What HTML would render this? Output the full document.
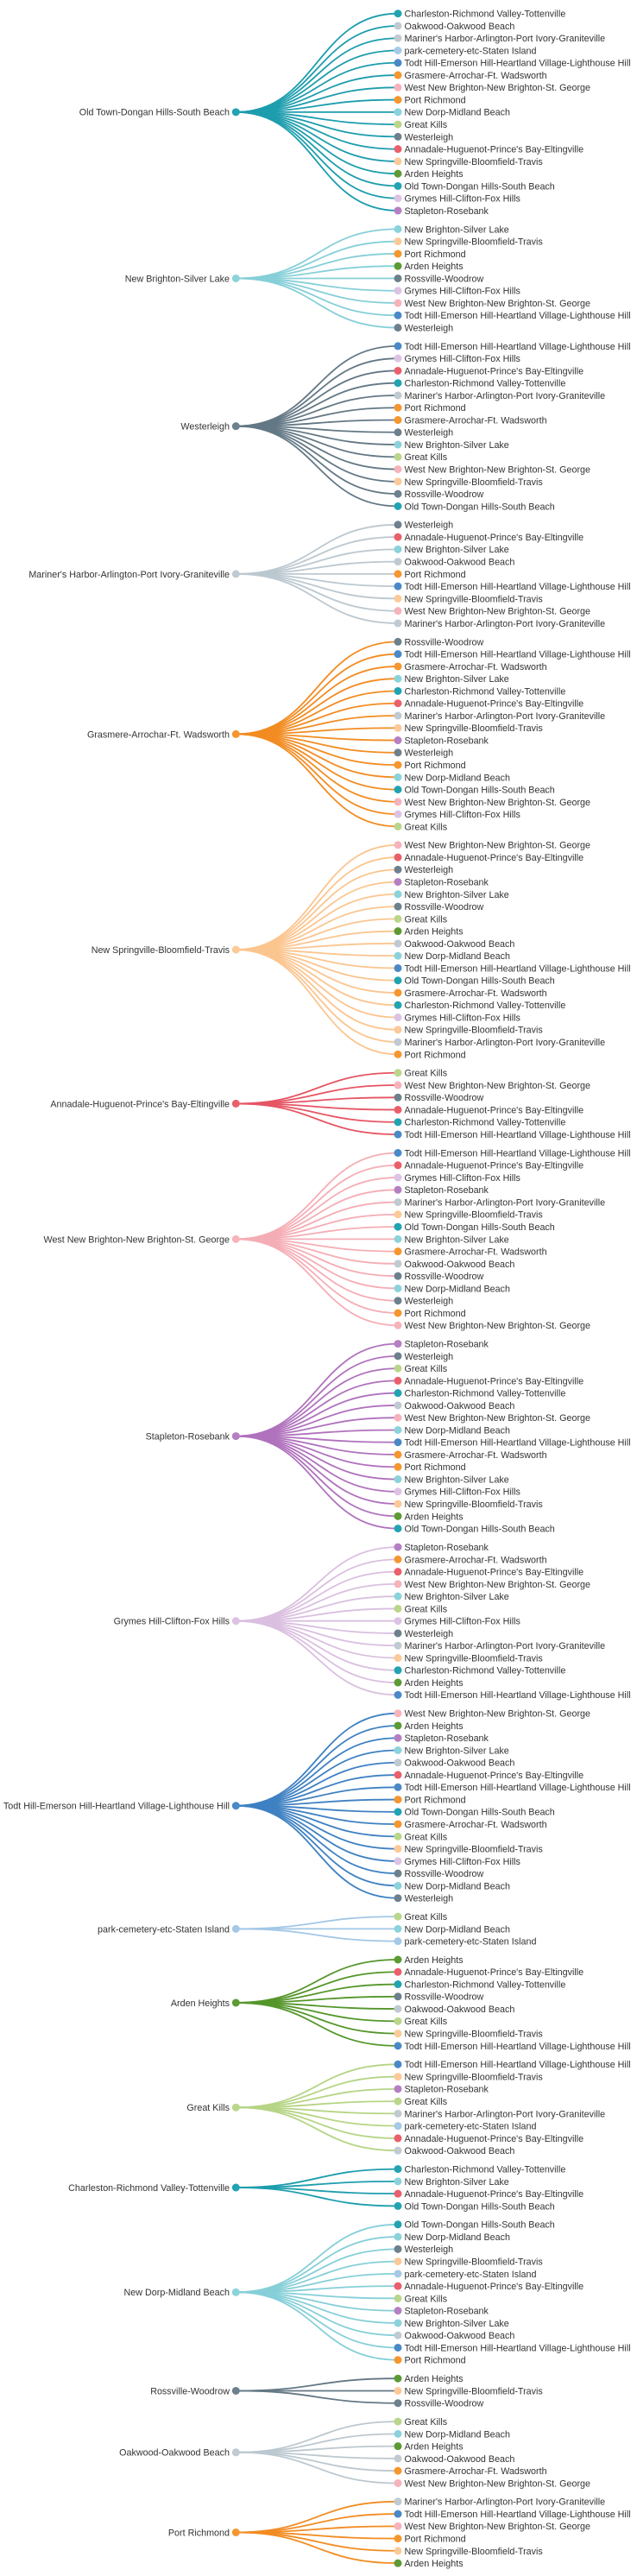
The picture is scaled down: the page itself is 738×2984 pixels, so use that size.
<!DOCTYPE html>
<html><head><meta charset="utf-8"><style>
html,body{margin:0;padding:0;background:#fff}
svg{display:block}
text{font-family:"Liberation Sans",sans-serif;font-size:10.75px;fill:#333}
.r{text-anchor:end}
.k{fill:none;stroke-width:1.8}
.ot,.ch{fill:#22a3b2}
.oa,.ma{fill:#bfcad2}
.pc{fill:#a5c9e7}
.td{fill:#4a89c8}
.gr,.pr{fill:#f5962f}
.wn{fill:#f6b3ba}
.nd,.nb{fill:#8bd3db}
.gk{fill:#bad68b}
.we,.ro{fill:#6d808d}
.an{fill:#e9606b}
.ns{fill:#fcc998}
.ar{fill:#5c9b34}
.gy{fill:#ddc3e3}
.st{fill:#b67fc3}
</style></head><body>
<svg width="738" height="2984" viewBox="0 0 738 2984" xmlns="http://www.w3.org/2000/svg">

<!-- Group 0: Old Town -->
<g transform="translate(0,15.7)">
<g class="k" stroke="#1d9dad">
<path d="M273.3 114.14C367 114.14 367 0 461 0"/>
<path d="M273.3 114.14C367 114.14 367 14.27 461 14.27"/>
<path d="M273.3 114.14C367 114.14 367 28.54 461 28.54"/>
<path d="M273.3 114.14C367 114.14 367 42.8 461 42.8"/>
<path d="M273.3 114.14C367 114.14 367 57.07 461 57.07"/>
<path d="M273.3 114.14C367 114.14 367 71.34 461 71.34"/>
<path d="M273.3 114.14C367 114.14 367 85.61 461 85.61"/>
<path d="M273.3 114.14C367 114.14 367 99.88 461 99.88"/>
<path d="M273.3 114.14C367 114.14 367 114.14 461 114.14"/>
<path d="M273.3 114.14C367 114.14 367 128.41 461 128.41"/>
<path d="M273.3 114.14C367 114.14 367 142.68 461 142.68"/>
<path d="M273.3 114.14C367 114.14 367 156.95 461 156.95"/>
<path d="M273.3 114.14C367 114.14 367 171.22 461 171.22"/>
<path d="M273.3 114.14C367 114.14 367 185.48 461 185.48"/>
<path d="M273.3 114.14C367 114.14 367 199.75 461 199.75"/>
<path d="M273.3 114.14C367 114.14 367 214.02 461 214.02"/>
<path d="M273.3 114.14C367 114.14 367 228.29 461 228.29"/>
</g>
<circle cx="273.3" cy="114.14" r="4.5" class="ot"/>
<text class="r" x="266" y="118.04">Old Town-Dongan Hills-South Beach</text>
<g transform="translate(461,0)"><circle r="4.5" class="ch"/><text x="7.5" y="3.9">Charleston-Richmond Valley-Tottenville</text></g>
<g transform="translate(461,14.27)"><circle r="4.5" class="oa"/><text x="7.5" y="3.9">Oakwood-Oakwood Beach</text></g>
<g transform="translate(461,28.54)"><circle r="4.5" class="ma"/><text x="7.5" y="3.9">Mariner's Harbor-Arlington-Port Ivory-Graniteville</text></g>
<g transform="translate(461,42.8)"><circle r="4.5" class="pc"/><text x="7.5" y="3.9">park-cemetery-etc-Staten Island</text></g>
<g transform="translate(461,57.07)"><circle r="4.5" class="td"/><text x="7.5" y="3.9">Todt Hill-Emerson Hill-Heartland Village-Lighthouse Hill</text></g>
<g transform="translate(461,71.34)"><circle r="4.5" class="gr"/><text x="7.5" y="3.9">Grasmere-Arrochar-Ft. Wadsworth</text></g>
<g transform="translate(461,85.61)"><circle r="4.5" class="wn"/><text x="7.5" y="3.9">West New Brighton-New Brighton-St. George</text></g>
<g transform="translate(461,99.88)"><circle r="4.5" class="pr"/><text x="7.5" y="3.9">Port Richmond</text></g>
<g transform="translate(461,114.14)"><circle r="4.5" class="nd"/><text x="7.5" y="3.9">New Dorp-Midland Beach</text></g>
<g transform="translate(461,128.41)"><circle r="4.5" class="gk"/><text x="7.5" y="3.9">Great Kills</text></g>
<g transform="translate(461,142.68)"><circle r="4.5" class="we"/><text x="7.5" y="3.9">Westerleigh</text></g>
<g transform="translate(461,156.95)"><circle r="4.5" class="an"/><text x="7.5" y="3.9">Annadale-Huguenot-Prince's Bay-Eltingville</text></g>
<g transform="translate(461,171.22)"><circle r="4.5" class="ns"/><text x="7.5" y="3.9">New Springville-Bloomfield-Travis</text></g>
<g transform="translate(461,185.48)"><circle r="4.5" class="ar"/><text x="7.5" y="3.9">Arden Heights</text></g>
<g transform="translate(461,199.75)"><circle r="4.5" class="ot"/><text x="7.5" y="3.9">Old Town-Dongan Hills-South Beach</text></g>
<g transform="translate(461,214.02)"><circle r="4.5" class="gy"/><text x="7.5" y="3.9">Grymes Hill-Clifton-Fox Hills</text></g>
<g transform="translate(461,228.29)"><circle r="4.5" class="st"/><text x="7.5" y="3.9">Stapleton-Rosebank</text></g>
</g>

<!-- Group 1: New Brighton-Silver Lake -->
<g transform="translate(0,265.4)">
<g class="k" stroke="#86cfd8">
<path d="M273.3 57.07C367 57.07 367 0 461 0"/>
<path d="M273.3 57.07C367 57.07 367 14.27 461 14.27"/>
<path d="M273.3 57.07C367 57.07 367 28.54 461 28.54"/>
<path d="M273.3 57.07C367 57.07 367 42.8 461 42.8"/>
<path d="M273.3 57.07C367 57.07 367 57.07 461 57.07"/>
<path d="M273.3 57.07C367 57.07 367 71.34 461 71.34"/>
<path d="M273.3 57.07C367 57.07 367 85.61 461 85.61"/>
<path d="M273.3 57.07C367 57.07 367 99.88 461 99.88"/>
<path d="M273.3 57.07C367 57.07 367 114.14 461 114.14"/>
</g>
<circle cx="273.3" cy="57.07" r="4.5" class="nb"/>
<text class="r" x="266" y="60.97">New Brighton-Silver Lake</text>
<g transform="translate(461,0)"><circle r="4.5" class="nb"/><text x="7.5" y="3.9">New Brighton-Silver Lake</text></g>
<g transform="translate(461,14.27)"><circle r="4.5" class="ns"/><text x="7.5" y="3.9">New Springville-Bloomfield-Travis</text></g>
<g transform="translate(461,28.54)"><circle r="4.5" class="pr"/><text x="7.5" y="3.9">Port Richmond</text></g>
<g transform="translate(461,42.8)"><circle r="4.5" class="ar"/><text x="7.5" y="3.9">Arden Heights</text></g>
<g transform="translate(461,57.07)"><circle r="4.5" class="ro"/><text x="7.5" y="3.9">Rossville-Woodrow</text></g>
<g transform="translate(461,71.34)"><circle r="4.5" class="gy"/><text x="7.5" y="3.9">Grymes Hill-Clifton-Fox Hills</text></g>
<g transform="translate(461,85.61)"><circle r="4.5" class="wn"/><text x="7.5" y="3.9">West New Brighton-New Brighton-St. George</text></g>
<g transform="translate(461,99.88)"><circle r="4.5" class="td"/><text x="7.5" y="3.9">Todt Hill-Emerson Hill-Heartland Village-Lighthouse Hill</text></g>
<g transform="translate(461,114.14)"><circle r="4.5" class="we"/><text x="7.5" y="3.9">Westerleigh</text></g>
</g>

<!-- Group 2: Westerleigh -->
<g transform="translate(0,400.9)">
<g class="k" stroke="#637885">
<path d="M273.3 92.74C367 92.74 367 0 461 0"/>
<path d="M273.3 92.74C367 92.74 367 14.27 461 14.27"/>
<path d="M273.3 92.74C367 92.74 367 28.54 461 28.54"/>
<path d="M273.3 92.74C367 92.74 367 42.8 461 42.8"/>
<path d="M273.3 92.74C367 92.74 367 57.07 461 57.07"/>
<path d="M273.3 92.74C367 92.74 367 71.34 461 71.34"/>
<path d="M273.3 92.74C367 92.74 367 85.61 461 85.61"/>
<path d="M273.3 92.74C367 92.74 367 99.88 461 99.88"/>
<path d="M273.3 92.74C367 92.74 367 114.14 461 114.14"/>
<path d="M273.3 92.74C367 92.74 367 128.41 461 128.41"/>
<path d="M273.3 92.74C367 92.74 367 142.68 461 142.68"/>
<path d="M273.3 92.74C367 92.74 367 156.95 461 156.95"/>
<path d="M273.3 92.74C367 92.74 367 171.22 461 171.22"/>
<path d="M273.3 92.74C367 92.74 367 185.48 461 185.48"/>
</g>
<circle cx="273.3" cy="92.74" r="4.5" class="we"/>
<text class="r" x="266" y="96.64">Westerleigh</text>
<g transform="translate(461,0)"><circle r="4.5" class="td"/><text x="7.5" y="3.9">Todt Hill-Emerson Hill-Heartland Village-Lighthouse Hill</text></g>
<g transform="translate(461,14.27)"><circle r="4.5" class="gy"/><text x="7.5" y="3.9">Grymes Hill-Clifton-Fox Hills</text></g>
<g transform="translate(461,28.54)"><circle r="4.5" class="an"/><text x="7.5" y="3.9">Annadale-Huguenot-Prince's Bay-Eltingville</text></g>
<g transform="translate(461,42.8)"><circle r="4.5" class="ch"/><text x="7.5" y="3.9">Charleston-Richmond Valley-Tottenville</text></g>
<g transform="translate(461,57.07)"><circle r="4.5" class="ma"/><text x="7.5" y="3.9">Mariner's Harbor-Arlington-Port Ivory-Graniteville</text></g>
<g transform="translate(461,71.34)"><circle r="4.5" class="pr"/><text x="7.5" y="3.9">Port Richmond</text></g>
<g transform="translate(461,85.61)"><circle r="4.5" class="gr"/><text x="7.5" y="3.9">Grasmere-Arrochar-Ft. Wadsworth</text></g>
<g transform="translate(461,99.88)"><circle r="4.5" class="we"/><text x="7.5" y="3.9">Westerleigh</text></g>
<g transform="translate(461,114.14)"><circle r="4.5" class="nb"/><text x="7.5" y="3.9">New Brighton-Silver Lake</text></g>
<g transform="translate(461,128.41)"><circle r="4.5" class="gk"/><text x="7.5" y="3.9">Great Kills</text></g>
<g transform="translate(461,142.68)"><circle r="4.5" class="wn"/><text x="7.5" y="3.9">West New Brighton-New Brighton-St. George</text></g>
<g transform="translate(461,156.95)"><circle r="4.5" class="ns"/><text x="7.5" y="3.9">New Springville-Bloomfield-Travis</text></g>
<g transform="translate(461,171.22)"><circle r="4.5" class="ro"/><text x="7.5" y="3.9">Rossville-Woodrow</text></g>
<g transform="translate(461,185.48)"><circle r="4.5" class="ot"/><text x="7.5" y="3.9">Old Town-Dongan Hills-South Beach</text></g>
</g>

<!-- Group 3: Mariner's Harbor -->
<g transform="translate(0,607.8)">
<g class="k" stroke="#bcc8d0">
<path d="M273.3 57.07C367 57.07 367 0 461 0"/>
<path d="M273.3 57.07C367 57.07 367 14.27 461 14.27"/>
<path d="M273.3 57.07C367 57.07 367 28.54 461 28.54"/>
<path d="M273.3 57.07C367 57.07 367 42.8 461 42.8"/>
<path d="M273.3 57.07C367 57.07 367 57.07 461 57.07"/>
<path d="M273.3 57.07C367 57.07 367 71.34 461 71.34"/>
<path d="M273.3 57.07C367 57.07 367 85.61 461 85.61"/>
<path d="M273.3 57.07C367 57.07 367 99.88 461 99.88"/>
<path d="M273.3 57.07C367 57.07 367 114.14 461 114.14"/>
</g>
<circle cx="273.3" cy="57.07" r="4.5" class="ma"/>
<text class="r" x="266" y="60.97">Mariner's Harbor-Arlington-Port Ivory-Graniteville</text>
<g transform="translate(461,0)"><circle r="4.5" class="we"/><text x="7.5" y="3.9">Westerleigh</text></g>
<g transform="translate(461,14.27)"><circle r="4.5" class="an"/><text x="7.5" y="3.9">Annadale-Huguenot-Prince's Bay-Eltingville</text></g>
<g transform="translate(461,28.54)"><circle r="4.5" class="nb"/><text x="7.5" y="3.9">New Brighton-Silver Lake</text></g>
<g transform="translate(461,42.8)"><circle r="4.5" class="oa"/><text x="7.5" y="3.9">Oakwood-Oakwood Beach</text></g>
<g transform="translate(461,57.07)"><circle r="4.5" class="pr"/><text x="7.5" y="3.9">Port Richmond</text></g>
<g transform="translate(461,71.34)"><circle r="4.5" class="td"/><text x="7.5" y="3.9">Todt Hill-Emerson Hill-Heartland Village-Lighthouse Hill</text></g>
<g transform="translate(461,85.61)"><circle r="4.5" class="ns"/><text x="7.5" y="3.9">New Springville-Bloomfield-Travis</text></g>
<g transform="translate(461,99.88)"><circle r="4.5" class="wn"/><text x="7.5" y="3.9">West New Brighton-New Brighton-St. George</text></g>
<g transform="translate(461,114.14)"><circle r="4.5" class="ma"/><text x="7.5" y="3.9">Mariner's Harbor-Arlington-Port Ivory-Graniteville</text></g>
</g>

<!-- Group 4: Grasmere -->
<g transform="translate(0,743.4)">
<g class="k" stroke="#f28c22">
<path d="M273.3 107.01C367 107.01 367 0 461 0"/>
<path d="M273.3 107.01C367 107.01 367 14.27 461 14.27"/>
<path d="M273.3 107.01C367 107.01 367 28.54 461 28.54"/>
<path d="M273.3 107.01C367 107.01 367 42.8 461 42.8"/>
<path d="M273.3 107.01C367 107.01 367 57.07 461 57.07"/>
<path d="M273.3 107.01C367 107.01 367 71.34 461 71.34"/>
<path d="M273.3 107.01C367 107.01 367 85.61 461 85.61"/>
<path d="M273.3 107.01C367 107.01 367 99.88 461 99.88"/>
<path d="M273.3 107.01C367 107.01 367 114.14 461 114.14"/>
<path d="M273.3 107.01C367 107.01 367 128.41 461 128.41"/>
<path d="M273.3 107.01C367 107.01 367 142.68 461 142.68"/>
<path d="M273.3 107.01C367 107.01 367 156.95 461 156.95"/>
<path d="M273.3 107.01C367 107.01 367 171.22 461 171.22"/>
<path d="M273.3 107.01C367 107.01 367 185.48 461 185.48"/>
<path d="M273.3 107.01C367 107.01 367 199.75 461 199.75"/>
<path d="M273.3 107.01C367 107.01 367 214.02 461 214.02"/>
</g>
<circle cx="273.3" cy="107.01" r="4.5" class="gr"/>
<text class="r" x="266" y="110.91">Grasmere-Arrochar-Ft. Wadsworth</text>
<g transform="translate(461,0)"><circle r="4.5" class="ro"/><text x="7.5" y="3.9">Rossville-Woodrow</text></g>
<g transform="translate(461,14.27)"><circle r="4.5" class="td"/><text x="7.5" y="3.9">Todt Hill-Emerson Hill-Heartland Village-Lighthouse Hill</text></g>
<g transform="translate(461,28.54)"><circle r="4.5" class="gr"/><text x="7.5" y="3.9">Grasmere-Arrochar-Ft. Wadsworth</text></g>
<g transform="translate(461,42.8)"><circle r="4.5" class="nb"/><text x="7.5" y="3.9">New Brighton-Silver Lake</text></g>
<g transform="translate(461,57.07)"><circle r="4.5" class="ch"/><text x="7.5" y="3.9">Charleston-Richmond Valley-Tottenville</text></g>
<g transform="translate(461,71.34)"><circle r="4.5" class="an"/><text x="7.5" y="3.9">Annadale-Huguenot-Prince's Bay-Eltingville</text></g>
<g transform="translate(461,85.61)"><circle r="4.5" class="ma"/><text x="7.5" y="3.9">Mariner's Harbor-Arlington-Port Ivory-Graniteville</text></g>
<g transform="translate(461,99.88)"><circle r="4.5" class="ns"/><text x="7.5" y="3.9">New Springville-Bloomfield-Travis</text></g>
<g transform="translate(461,114.14)"><circle r="4.5" class="st"/><text x="7.5" y="3.9">Stapleton-Rosebank</text></g>
<g transform="translate(461,128.41)"><circle r="4.5" class="we"/><text x="7.5" y="3.9">Westerleigh</text></g>
<g transform="translate(461,142.68)"><circle r="4.5" class="pr"/><text x="7.5" y="3.9">Port Richmond</text></g>
<g transform="translate(461,156.95)"><circle r="4.5" class="nd"/><text x="7.5" y="3.9">New Dorp-Midland Beach</text></g>
<g transform="translate(461,171.22)"><circle r="4.5" class="ot"/><text x="7.5" y="3.9">Old Town-Dongan Hills-South Beach</text></g>
<g transform="translate(461,185.48)"><circle r="4.5" class="wn"/><text x="7.5" y="3.9">West New Brighton-New Brighton-St. George</text></g>
<g transform="translate(461,199.75)"><circle r="4.5" class="gy"/><text x="7.5" y="3.9">Grymes Hill-Clifton-Fox Hills</text></g>
<g transform="translate(461,214.02)"><circle r="4.5" class="gk"/><text x="7.5" y="3.9">Great Kills</text></g>
</g>

<!-- Group 5: New Springville -->
<g transform="translate(0,978.8)">
<g class="k" stroke="#fbc58f">
<path d="M273.3 121.28C367 121.28 367 0 461 0"/>
<path d="M273.3 121.28C367 121.28 367 14.27 461 14.27"/>
<path d="M273.3 121.28C367 121.28 367 28.54 461 28.54"/>
<path d="M273.3 121.28C367 121.28 367 42.8 461 42.8"/>
<path d="M273.3 121.28C367 121.28 367 57.07 461 57.07"/>
<path d="M273.3 121.28C367 121.28 367 71.34 461 71.34"/>
<path d="M273.3 121.28C367 121.28 367 85.61 461 85.61"/>
<path d="M273.3 121.28C367 121.28 367 99.88 461 99.88"/>
<path d="M273.3 121.28C367 121.28 367 114.14 461 114.14"/>
<path d="M273.3 121.28C367 121.28 367 128.41 461 128.41"/>
<path d="M273.3 121.28C367 121.28 367 142.68 461 142.68"/>
<path d="M273.3 121.28C367 121.28 367 156.95 461 156.95"/>
<path d="M273.3 121.28C367 121.28 367 171.22 461 171.22"/>
<path d="M273.3 121.28C367 121.28 367 185.48 461 185.48"/>
<path d="M273.3 121.28C367 121.28 367 199.75 461 199.75"/>
<path d="M273.3 121.28C367 121.28 367 214.02 461 214.02"/>
<path d="M273.3 121.28C367 121.28 367 228.29 461 228.29"/>
<path d="M273.3 121.28C367 121.28 367 242.56 461 242.56"/>
</g>
<circle cx="273.3" cy="121.28" r="4.5" class="ns"/>
<text class="r" x="266" y="125.18">New Springville-Bloomfield-Travis</text>
<g transform="translate(461,0)"><circle r="4.5" class="wn"/><text x="7.5" y="3.9">West New Brighton-New Brighton-St. George</text></g>
<g transform="translate(461,14.27)"><circle r="4.5" class="an"/><text x="7.5" y="3.9">Annadale-Huguenot-Prince's Bay-Eltingville</text></g>
<g transform="translate(461,28.54)"><circle r="4.5" class="we"/><text x="7.5" y="3.9">Westerleigh</text></g>
<g transform="translate(461,42.8)"><circle r="4.5" class="st"/><text x="7.5" y="3.9">Stapleton-Rosebank</text></g>
<g transform="translate(461,57.07)"><circle r="4.5" class="nb"/><text x="7.5" y="3.9">New Brighton-Silver Lake</text></g>
<g transform="translate(461,71.34)"><circle r="4.5" class="ro"/><text x="7.5" y="3.9">Rossville-Woodrow</text></g>
<g transform="translate(461,85.61)"><circle r="4.5" class="gk"/><text x="7.5" y="3.9">Great Kills</text></g>
<g transform="translate(461,99.88)"><circle r="4.5" class="ar"/><text x="7.5" y="3.9">Arden Heights</text></g>
<g transform="translate(461,114.14)"><circle r="4.5" class="oa"/><text x="7.5" y="3.9">Oakwood-Oakwood Beach</text></g>
<g transform="translate(461,128.41)"><circle r="4.5" class="nd"/><text x="7.5" y="3.9">New Dorp-Midland Beach</text></g>
<g transform="translate(461,142.68)"><circle r="4.5" class="td"/><text x="7.5" y="3.9">Todt Hill-Emerson Hill-Heartland Village-Lighthouse Hill</text></g>
<g transform="translate(461,156.95)"><circle r="4.5" class="ot"/><text x="7.5" y="3.9">Old Town-Dongan Hills-South Beach</text></g>
<g transform="translate(461,171.22)"><circle r="4.5" class="gr"/><text x="7.5" y="3.9">Grasmere-Arrochar-Ft. Wadsworth</text></g>
<g transform="translate(461,185.48)"><circle r="4.5" class="ch"/><text x="7.5" y="3.9">Charleston-Richmond Valley-Tottenville</text></g>
<g transform="translate(461,199.75)"><circle r="4.5" class="gy"/><text x="7.5" y="3.9">Grymes Hill-Clifton-Fox Hills</text></g>
<g transform="translate(461,214.02)"><circle r="4.5" class="ns"/><text x="7.5" y="3.9">New Springville-Bloomfield-Travis</text></g>
<g transform="translate(461,228.29)"><circle r="4.5" class="ma"/><text x="7.5" y="3.9">Mariner's Harbor-Arlington-Port Ivory-Graniteville</text></g>
<g transform="translate(461,242.56)"><circle r="4.5" class="pr"/><text x="7.5" y="3.9">Port Richmond</text></g>
</g>

<!-- Group 6: Annadale -->
<g transform="translate(0,1242.75)">
<g class="k" stroke="#e65563">
<path d="M273.3 35.67C367 35.67 367 0 461 0"/>
<path d="M273.3 35.67C367 35.67 367 14.27 461 14.27"/>
<path d="M273.3 35.67C367 35.67 367 28.54 461 28.54"/>
<path d="M273.3 35.67C367 35.67 367 42.8 461 42.8"/>
<path d="M273.3 35.67C367 35.67 367 57.07 461 57.07"/>
<path d="M273.3 35.67C367 35.67 367 71.34 461 71.34"/>
</g>
<circle cx="273.3" cy="35.67" r="4.5" class="an"/>
<text class="r" x="266" y="39.57">Annadale-Huguenot-Prince's Bay-Eltingville</text>
<g transform="translate(461,0)"><circle r="4.5" class="gk"/><text x="7.5" y="3.9">Great Kills</text></g>
<g transform="translate(461,14.27)"><circle r="4.5" class="wn"/><text x="7.5" y="3.9">West New Brighton-New Brighton-St. George</text></g>
<g transform="translate(461,28.54)"><circle r="4.5" class="ro"/><text x="7.5" y="3.9">Rossville-Woodrow</text></g>
<g transform="translate(461,42.8)"><circle r="4.5" class="an"/><text x="7.5" y="3.9">Annadale-Huguenot-Prince's Bay-Eltingville</text></g>
<g transform="translate(461,57.07)"><circle r="4.5" class="ch"/><text x="7.5" y="3.9">Charleston-Richmond Valley-Tottenville</text></g>
<g transform="translate(461,71.34)"><circle r="4.5" class="td"/><text x="7.5" y="3.9">Todt Hill-Emerson Hill-Heartland Village-Lighthouse Hill</text></g>
</g>

<!-- Group 7: West New Brighton -->
<g transform="translate(0,1335.5)">
<g class="k" stroke="#f5adb5">
<path d="M273.3 99.88C367 99.88 367 0 461 0"/>
<path d="M273.3 99.88C367 99.88 367 14.27 461 14.27"/>
<path d="M273.3 99.88C367 99.88 367 28.54 461 28.54"/>
<path d="M273.3 99.88C367 99.88 367 42.8 461 42.8"/>
<path d="M273.3 99.88C367 99.88 367 57.07 461 57.07"/>
<path d="M273.3 99.88C367 99.88 367 71.34 461 71.34"/>
<path d="M273.3 99.88C367 99.88 367 85.61 461 85.61"/>
<path d="M273.3 99.88C367 99.88 367 99.88 461 99.88"/>
<path d="M273.3 99.88C367 99.88 367 114.14 461 114.14"/>
<path d="M273.3 99.88C367 99.88 367 128.41 461 128.41"/>
<path d="M273.3 99.88C367 99.88 367 142.68 461 142.68"/>
<path d="M273.3 99.88C367 99.88 367 156.95 461 156.95"/>
<path d="M273.3 99.88C367 99.88 367 171.22 461 171.22"/>
<path d="M273.3 99.88C367 99.88 367 185.48 461 185.48"/>
<path d="M273.3 99.88C367 99.88 367 199.75 461 199.75"/>
</g>
<circle cx="273.3" cy="99.88" r="4.5" class="wn"/>
<text class="r" x="266" y="103.78">West New Brighton-New Brighton-St. George</text>
<g transform="translate(461,0)"><circle r="4.5" class="td"/><text x="7.5" y="3.9">Todt Hill-Emerson Hill-Heartland Village-Lighthouse Hill</text></g>
<g transform="translate(461,14.27)"><circle r="4.5" class="an"/><text x="7.5" y="3.9">Annadale-Huguenot-Prince's Bay-Eltingville</text></g>
<g transform="translate(461,28.54)"><circle r="4.5" class="gy"/><text x="7.5" y="3.9">Grymes Hill-Clifton-Fox Hills</text></g>
<g transform="translate(461,42.8)"><circle r="4.5" class="st"/><text x="7.5" y="3.9">Stapleton-Rosebank</text></g>
<g transform="translate(461,57.07)"><circle r="4.5" class="ma"/><text x="7.5" y="3.9">Mariner's Harbor-Arlington-Port Ivory-Graniteville</text></g>
<g transform="translate(461,71.34)"><circle r="4.5" class="ns"/><text x="7.5" y="3.9">New Springville-Bloomfield-Travis</text></g>
<g transform="translate(461,85.61)"><circle r="4.5" class="ot"/><text x="7.5" y="3.9">Old Town-Dongan Hills-South Beach</text></g>
<g transform="translate(461,99.88)"><circle r="4.5" class="nb"/><text x="7.5" y="3.9">New Brighton-Silver Lake</text></g>
<g transform="translate(461,114.14)"><circle r="4.5" class="gr"/><text x="7.5" y="3.9">Grasmere-Arrochar-Ft. Wadsworth</text></g>
<g transform="translate(461,128.41)"><circle r="4.5" class="oa"/><text x="7.5" y="3.9">Oakwood-Oakwood Beach</text></g>
<g transform="translate(461,142.68)"><circle r="4.5" class="ro"/><text x="7.5" y="3.9">Rossville-Woodrow</text></g>
<g transform="translate(461,156.95)"><circle r="4.5" class="nd"/><text x="7.5" y="3.9">New Dorp-Midland Beach</text></g>
<g transform="translate(461,171.22)"><circle r="4.5" class="we"/><text x="7.5" y="3.9">Westerleigh</text></g>
<g transform="translate(461,185.48)"><circle r="4.5" class="pr"/><text x="7.5" y="3.9">Port Richmond</text></g>
<g transform="translate(461,199.75)"><circle r="4.5" class="wn"/><text x="7.5" y="3.9">West New Brighton-New Brighton-St. George</text></g>
</g>

<!-- Group 8: Stapleton -->
<g transform="translate(0,1556.6)">
<g class="k" stroke="#b072bd">
<path d="M273.3 107.01C367 107.01 367 0 461 0"/>
<path d="M273.3 107.01C367 107.01 367 14.27 461 14.27"/>
<path d="M273.3 107.01C367 107.01 367 28.54 461 28.54"/>
<path d="M273.3 107.01C367 107.01 367 42.8 461 42.8"/>
<path d="M273.3 107.01C367 107.01 367 57.07 461 57.07"/>
<path d="M273.3 107.01C367 107.01 367 71.34 461 71.34"/>
<path d="M273.3 107.01C367 107.01 367 85.61 461 85.61"/>
<path d="M273.3 107.01C367 107.01 367 99.88 461 99.88"/>
<path d="M273.3 107.01C367 107.01 367 114.14 461 114.14"/>
<path d="M273.3 107.01C367 107.01 367 128.41 461 128.41"/>
<path d="M273.3 107.01C367 107.01 367 142.68 461 142.68"/>
<path d="M273.3 107.01C367 107.01 367 156.95 461 156.95"/>
<path d="M273.3 107.01C367 107.01 367 171.22 461 171.22"/>
<path d="M273.3 107.01C367 107.01 367 185.48 461 185.48"/>
<path d="M273.3 107.01C367 107.01 367 199.75 461 199.75"/>
<path d="M273.3 107.01C367 107.01 367 214.02 461 214.02"/>
</g>
<circle cx="273.3" cy="107.01" r="4.5" class="st"/>
<text class="r" x="266" y="110.91">Stapleton-Rosebank</text>
<g transform="translate(461,0)"><circle r="4.5" class="st"/><text x="7.5" y="3.9">Stapleton-Rosebank</text></g>
<g transform="translate(461,14.27)"><circle r="4.5" class="we"/><text x="7.5" y="3.9">Westerleigh</text></g>
<g transform="translate(461,28.54)"><circle r="4.5" class="gk"/><text x="7.5" y="3.9">Great Kills</text></g>
<g transform="translate(461,42.8)"><circle r="4.5" class="an"/><text x="7.5" y="3.9">Annadale-Huguenot-Prince's Bay-Eltingville</text></g>
<g transform="translate(461,57.07)"><circle r="4.5" class="ch"/><text x="7.5" y="3.9">Charleston-Richmond Valley-Tottenville</text></g>
<g transform="translate(461,71.34)"><circle r="4.5" class="oa"/><text x="7.5" y="3.9">Oakwood-Oakwood Beach</text></g>
<g transform="translate(461,85.61)"><circle r="4.5" class="wn"/><text x="7.5" y="3.9">West New Brighton-New Brighton-St. George</text></g>
<g transform="translate(461,99.88)"><circle r="4.5" class="nd"/><text x="7.5" y="3.9">New Dorp-Midland Beach</text></g>
<g transform="translate(461,114.14)"><circle r="4.5" class="td"/><text x="7.5" y="3.9">Todt Hill-Emerson Hill-Heartland Village-Lighthouse Hill</text></g>
<g transform="translate(461,128.41)"><circle r="4.5" class="gr"/><text x="7.5" y="3.9">Grasmere-Arrochar-Ft. Wadsworth</text></g>
<g transform="translate(461,142.68)"><circle r="4.5" class="pr"/><text x="7.5" y="3.9">Port Richmond</text></g>
<g transform="translate(461,156.95)"><circle r="4.5" class="nb"/><text x="7.5" y="3.9">New Brighton-Silver Lake</text></g>
<g transform="translate(461,171.22)"><circle r="4.5" class="gy"/><text x="7.5" y="3.9">Grymes Hill-Clifton-Fox Hills</text></g>
<g transform="translate(461,185.48)"><circle r="4.5" class="ns"/><text x="7.5" y="3.9">New Springville-Bloomfield-Travis</text></g>
<g transform="translate(461,199.75)"><circle r="4.5" class="ar"/><text x="7.5" y="3.9">Arden Heights</text></g>
<g transform="translate(461,214.02)"><circle r="4.5" class="ot"/><text x="7.5" y="3.9">Old Town-Dongan Hills-South Beach</text></g>
</g>

<!-- Group 9: Grymes Hill -->
<g transform="translate(0,1792.1)">
<g class="k" stroke="#dabfe0">
<path d="M273.3 85.61C367 85.61 367 0 461 0"/>
<path d="M273.3 85.61C367 85.61 367 14.27 461 14.27"/>
<path d="M273.3 85.61C367 85.61 367 28.54 461 28.54"/>
<path d="M273.3 85.61C367 85.61 367 42.8 461 42.8"/>
<path d="M273.3 85.61C367 85.61 367 57.07 461 57.07"/>
<path d="M273.3 85.61C367 85.61 367 71.34 461 71.34"/>
<path d="M273.3 85.61C367 85.61 367 85.61 461 85.61"/>
<path d="M273.3 85.61C367 85.61 367 99.88 461 99.88"/>
<path d="M273.3 85.61C367 85.61 367 114.14 461 114.14"/>
<path d="M273.3 85.61C367 85.61 367 128.41 461 128.41"/>
<path d="M273.3 85.61C367 85.61 367 142.68 461 142.68"/>
<path d="M273.3 85.61C367 85.61 367 156.95 461 156.95"/>
<path d="M273.3 85.61C367 85.61 367 171.22 461 171.22"/>
</g>
<circle cx="273.3" cy="85.61" r="4.5" class="gy"/>
<text class="r" x="266" y="89.51">Grymes Hill-Clifton-Fox Hills</text>
<g transform="translate(461,0)"><circle r="4.5" class="st"/><text x="7.5" y="3.9">Stapleton-Rosebank</text></g>
<g transform="translate(461,14.27)"><circle r="4.5" class="gr"/><text x="7.5" y="3.9">Grasmere-Arrochar-Ft. Wadsworth</text></g>
<g transform="translate(461,28.54)"><circle r="4.5" class="an"/><text x="7.5" y="3.9">Annadale-Huguenot-Prince's Bay-Eltingville</text></g>
<g transform="translate(461,42.8)"><circle r="4.5" class="wn"/><text x="7.5" y="3.9">West New Brighton-New Brighton-St. George</text></g>
<g transform="translate(461,57.07)"><circle r="4.5" class="nb"/><text x="7.5" y="3.9">New Brighton-Silver Lake</text></g>
<g transform="translate(461,71.34)"><circle r="4.5" class="gk"/><text x="7.5" y="3.9">Great Kills</text></g>
<g transform="translate(461,85.61)"><circle r="4.5" class="gy"/><text x="7.5" y="3.9">Grymes Hill-Clifton-Fox Hills</text></g>
<g transform="translate(461,99.88)"><circle r="4.5" class="we"/><text x="7.5" y="3.9">Westerleigh</text></g>
<g transform="translate(461,114.14)"><circle r="4.5" class="ma"/><text x="7.5" y="3.9">Mariner's Harbor-Arlington-Port Ivory-Graniteville</text></g>
<g transform="translate(461,128.41)"><circle r="4.5" class="ns"/><text x="7.5" y="3.9">New Springville-Bloomfield-Travis</text></g>
<g transform="translate(461,142.68)"><circle r="4.5" class="ch"/><text x="7.5" y="3.9">Charleston-Richmond Valley-Tottenville</text></g>
<g transform="translate(461,156.95)"><circle r="4.5" class="ar"/><text x="7.5" y="3.9">Arden Heights</text></g>
<g transform="translate(461,171.22)"><circle r="4.5" class="td"/><text x="7.5" y="3.9">Todt Hill-Emerson Hill-Heartland Village-Lighthouse Hill</text></g>
</g>

<!-- Group 10: Todt Hill -->
<g transform="translate(0,1984.7)">
<g class="k" stroke="#3f81c2">
<path d="M273.3 107.01C367 107.01 367 0 461 0"/>
<path d="M273.3 107.01C367 107.01 367 14.27 461 14.27"/>
<path d="M273.3 107.01C367 107.01 367 28.54 461 28.54"/>
<path d="M273.3 107.01C367 107.01 367 42.8 461 42.8"/>
<path d="M273.3 107.01C367 107.01 367 57.07 461 57.07"/>
<path d="M273.3 107.01C367 107.01 367 71.34 461 71.34"/>
<path d="M273.3 107.01C367 107.01 367 85.61 461 85.61"/>
<path d="M273.3 107.01C367 107.01 367 99.88 461 99.88"/>
<path d="M273.3 107.01C367 107.01 367 114.14 461 114.14"/>
<path d="M273.3 107.01C367 107.01 367 128.41 461 128.41"/>
<path d="M273.3 107.01C367 107.01 367 142.68 461 142.68"/>
<path d="M273.3 107.01C367 107.01 367 156.95 461 156.95"/>
<path d="M273.3 107.01C367 107.01 367 171.22 461 171.22"/>
<path d="M273.3 107.01C367 107.01 367 185.48 461 185.48"/>
<path d="M273.3 107.01C367 107.01 367 199.75 461 199.75"/>
<path d="M273.3 107.01C367 107.01 367 214.02 461 214.02"/>
</g>
<circle cx="273.3" cy="107.01" r="4.5" class="td"/>
<text class="r" x="266" y="110.91">Todt Hill-Emerson Hill-Heartland Village-Lighthouse Hill</text>
<g transform="translate(461,0)"><circle r="4.5" class="wn"/><text x="7.5" y="3.9">West New Brighton-New Brighton-St. George</text></g>
<g transform="translate(461,14.27)"><circle r="4.5" class="ar"/><text x="7.5" y="3.9">Arden Heights</text></g>
<g transform="translate(461,28.54)"><circle r="4.5" class="st"/><text x="7.5" y="3.9">Stapleton-Rosebank</text></g>
<g transform="translate(461,42.8)"><circle r="4.5" class="nb"/><text x="7.5" y="3.9">New Brighton-Silver Lake</text></g>
<g transform="translate(461,57.07)"><circle r="4.5" class="oa"/><text x="7.5" y="3.9">Oakwood-Oakwood Beach</text></g>
<g transform="translate(461,71.34)"><circle r="4.5" class="an"/><text x="7.5" y="3.9">Annadale-Huguenot-Prince's Bay-Eltingville</text></g>
<g transform="translate(461,85.61)"><circle r="4.5" class="td"/><text x="7.5" y="3.9">Todt Hill-Emerson Hill-Heartland Village-Lighthouse Hill</text></g>
<g transform="translate(461,99.88)"><circle r="4.5" class="pr"/><text x="7.5" y="3.9">Port Richmond</text></g>
<g transform="translate(461,114.14)"><circle r="4.5" class="ot"/><text x="7.5" y="3.9">Old Town-Dongan Hills-South Beach</text></g>
<g transform="translate(461,128.41)"><circle r="4.5" class="gr"/><text x="7.5" y="3.9">Grasmere-Arrochar-Ft. Wadsworth</text></g>
<g transform="translate(461,142.68)"><circle r="4.5" class="gk"/><text x="7.5" y="3.9">Great Kills</text></g>
<g transform="translate(461,156.95)"><circle r="4.5" class="ns"/><text x="7.5" y="3.9">New Springville-Bloomfield-Travis</text></g>
<g transform="translate(461,171.22)"><circle r="4.5" class="gy"/><text x="7.5" y="3.9">Grymes Hill-Clifton-Fox Hills</text></g>
<g transform="translate(461,185.48)"><circle r="4.5" class="ro"/><text x="7.5" y="3.9">Rossville-Woodrow</text></g>
<g transform="translate(461,199.75)"><circle r="4.5" class="nd"/><text x="7.5" y="3.9">New Dorp-Midland Beach</text></g>
<g transform="translate(461,214.02)"><circle r="4.5" class="we"/><text x="7.5" y="3.9">Westerleigh</text></g>
</g>

<!-- Group 11: park-cemetery -->
<g transform="translate(0,2220.1)">
<g class="k" stroke="#a3c7e6">
<path d="M273.3 14.27C367 14.27 367 0 461 0"/>
<path d="M273.3 14.27C367 14.27 367 14.27 461 14.27"/>
<path d="M273.3 14.27C367 14.27 367 28.54 461 28.54"/>
</g>
<circle cx="273.3" cy="14.27" r="4.5" class="pc"/>
<text class="r" x="266" y="18.17">park-cemetery-etc-Staten Island</text>
<g transform="translate(461,0)"><circle r="4.5" class="gk"/><text x="7.5" y="3.9">Great Kills</text></g>
<g transform="translate(461,14.27)"><circle r="4.5" class="nd"/><text x="7.5" y="3.9">New Dorp-Midland Beach</text></g>
<g transform="translate(461,28.54)"><circle r="4.5" class="pc"/><text x="7.5" y="3.9">park-cemetery-etc-Staten Island</text></g>
</g>

<!-- Group 12: Arden Heights -->
<g transform="translate(0,2270.0)">
<g class="k" stroke="#55962b">
<path d="M273.3 49.94C367 49.94 367 0 461 0"/>
<path d="M273.3 49.94C367 49.94 367 14.27 461 14.27"/>
<path d="M273.3 49.94C367 49.94 367 28.54 461 28.54"/>
<path d="M273.3 49.94C367 49.94 367 42.8 461 42.8"/>
<path d="M273.3 49.94C367 49.94 367 57.07 461 57.07"/>
<path d="M273.3 49.94C367 49.94 367 71.34 461 71.34"/>
<path d="M273.3 49.94C367 49.94 367 85.61 461 85.61"/>
<path d="M273.3 49.94C367 49.94 367 99.88 461 99.88"/>
</g>
<circle cx="273.3" cy="49.94" r="4.5" class="ar"/>
<text class="r" x="266" y="53.84">Arden Heights</text>
<g transform="translate(461,0)"><circle r="4.5" class="ar"/><text x="7.5" y="3.9">Arden Heights</text></g>
<g transform="translate(461,14.27)"><circle r="4.5" class="an"/><text x="7.5" y="3.9">Annadale-Huguenot-Prince's Bay-Eltingville</text></g>
<g transform="translate(461,28.54)"><circle r="4.5" class="ch"/><text x="7.5" y="3.9">Charleston-Richmond Valley-Tottenville</text></g>
<g transform="translate(461,42.8)"><circle r="4.5" class="ro"/><text x="7.5" y="3.9">Rossville-Woodrow</text></g>
<g transform="translate(461,57.07)"><circle r="4.5" class="oa"/><text x="7.5" y="3.9">Oakwood-Oakwood Beach</text></g>
<g transform="translate(461,71.34)"><circle r="4.5" class="gk"/><text x="7.5" y="3.9">Great Kills</text></g>
<g transform="translate(461,85.61)"><circle r="4.5" class="ns"/><text x="7.5" y="3.9">New Springville-Bloomfield-Travis</text></g>
<g transform="translate(461,99.88)"><circle r="4.5" class="td"/><text x="7.5" y="3.9">Todt Hill-Emerson Hill-Heartland Village-Lighthouse Hill</text></g>
</g>

<!-- Group 13: Great Kills -->
<g transform="translate(0,2391.3)">
<g class="k" stroke="#b6d485">
<path d="M273.3 49.94C367 49.94 367 0 461 0"/>
<path d="M273.3 49.94C367 49.94 367 14.27 461 14.27"/>
<path d="M273.3 49.94C367 49.94 367 28.54 461 28.54"/>
<path d="M273.3 49.94C367 49.94 367 42.8 461 42.8"/>
<path d="M273.3 49.94C367 49.94 367 57.07 461 57.07"/>
<path d="M273.3 49.94C367 49.94 367 71.34 461 71.34"/>
<path d="M273.3 49.94C367 49.94 367 85.61 461 85.61"/>
<path d="M273.3 49.94C367 49.94 367 99.88 461 99.88"/>
</g>
<circle cx="273.3" cy="49.94" r="4.5" class="gk"/>
<text class="r" x="266" y="53.84">Great Kills</text>
<g transform="translate(461,0)"><circle r="4.5" class="td"/><text x="7.5" y="3.9">Todt Hill-Emerson Hill-Heartland Village-Lighthouse Hill</text></g>
<g transform="translate(461,14.27)"><circle r="4.5" class="ns"/><text x="7.5" y="3.9">New Springville-Bloomfield-Travis</text></g>
<g transform="translate(461,28.54)"><circle r="4.5" class="st"/><text x="7.5" y="3.9">Stapleton-Rosebank</text></g>
<g transform="translate(461,42.8)"><circle r="4.5" class="gk"/><text x="7.5" y="3.9">Great Kills</text></g>
<g transform="translate(461,57.07)"><circle r="4.5" class="ma"/><text x="7.5" y="3.9">Mariner's Harbor-Arlington-Port Ivory-Graniteville</text></g>
<g transform="translate(461,71.34)"><circle r="4.5" class="pc"/><text x="7.5" y="3.9">park-cemetery-etc-Staten Island</text></g>
<g transform="translate(461,85.61)"><circle r="4.5" class="an"/><text x="7.5" y="3.9">Annadale-Huguenot-Prince's Bay-Eltingville</text></g>
<g transform="translate(461,99.88)"><circle r="4.5" class="oa"/><text x="7.5" y="3.9">Oakwood-Oakwood Beach</text></g>
</g>

<!-- Group 14: Charleston -->
<g transform="translate(0,2512.6)">
<g class="k" stroke="#1d9dad">
<path d="M273.3 21.4C367 21.4 367 0 461 0"/>
<path d="M273.3 21.4C367 21.4 367 14.27 461 14.27"/>
<path d="M273.3 21.4C367 21.4 367 28.54 461 28.54"/>
<path d="M273.3 21.4C367 21.4 367 42.8 461 42.8"/>
</g>
<circle cx="273.3" cy="21.4" r="4.5" class="ch"/>
<text class="r" x="266" y="25.3">Charleston-Richmond Valley-Tottenville</text>
<g transform="translate(461,0)"><circle r="4.5" class="ch"/><text x="7.5" y="3.9">Charleston-Richmond Valley-Tottenville</text></g>
<g transform="translate(461,14.27)"><circle r="4.5" class="nb"/><text x="7.5" y="3.9">New Brighton-Silver Lake</text></g>
<g transform="translate(461,28.54)"><circle r="4.5" class="an"/><text x="7.5" y="3.9">Annadale-Huguenot-Prince's Bay-Eltingville</text></g>
<g transform="translate(461,42.8)"><circle r="4.5" class="ot"/><text x="7.5" y="3.9">Old Town-Dongan Hills-South Beach</text></g>
</g>

<!-- Group 15: New Dorp -->
<g transform="translate(0,2576.8)">
<g class="k" stroke="#86cfd8">
<path d="M273.3 78.47C367 78.47 367 0 461 0"/>
<path d="M273.3 78.47C367 78.47 367 14.27 461 14.27"/>
<path d="M273.3 78.47C367 78.47 367 28.54 461 28.54"/>
<path d="M273.3 78.47C367 78.47 367 42.8 461 42.8"/>
<path d="M273.3 78.47C367 78.47 367 57.07 461 57.07"/>
<path d="M273.3 78.47C367 78.47 367 71.34 461 71.34"/>
<path d="M273.3 78.47C367 78.47 367 85.61 461 85.61"/>
<path d="M273.3 78.47C367 78.47 367 99.88 461 99.88"/>
<path d="M273.3 78.47C367 78.47 367 114.14 461 114.14"/>
<path d="M273.3 78.47C367 78.47 367 128.41 461 128.41"/>
<path d="M273.3 78.47C367 78.47 367 142.68 461 142.68"/>
<path d="M273.3 78.47C367 78.47 367 156.95 461 156.95"/>
</g>
<circle cx="273.3" cy="78.47" r="4.5" class="nd"/>
<text class="r" x="266" y="82.37">New Dorp-Midland Beach</text>
<g transform="translate(461,0)"><circle r="4.5" class="ot"/><text x="7.5" y="3.9">Old Town-Dongan Hills-South Beach</text></g>
<g transform="translate(461,14.27)"><circle r="4.5" class="nd"/><text x="7.5" y="3.9">New Dorp-Midland Beach</text></g>
<g transform="translate(461,28.54)"><circle r="4.5" class="we"/><text x="7.5" y="3.9">Westerleigh</text></g>
<g transform="translate(461,42.8)"><circle r="4.5" class="ns"/><text x="7.5" y="3.9">New Springville-Bloomfield-Travis</text></g>
<g transform="translate(461,57.07)"><circle r="4.5" class="pc"/><text x="7.5" y="3.9">park-cemetery-etc-Staten Island</text></g>
<g transform="translate(461,71.34)"><circle r="4.5" class="an"/><text x="7.5" y="3.9">Annadale-Huguenot-Prince's Bay-Eltingville</text></g>
<g transform="translate(461,85.61)"><circle r="4.5" class="gk"/><text x="7.5" y="3.9">Great Kills</text></g>
<g transform="translate(461,99.88)"><circle r="4.5" class="st"/><text x="7.5" y="3.9">Stapleton-Rosebank</text></g>
<g transform="translate(461,114.14)"><circle r="4.5" class="nb"/><text x="7.5" y="3.9">New Brighton-Silver Lake</text></g>
<g transform="translate(461,128.41)"><circle r="4.5" class="oa"/><text x="7.5" y="3.9">Oakwood-Oakwood Beach</text></g>
<g transform="translate(461,142.68)"><circle r="4.5" class="td"/><text x="7.5" y="3.9">Todt Hill-Emerson Hill-Heartland Village-Lighthouse Hill</text></g>
<g transform="translate(461,156.95)"><circle r="4.5" class="pr"/><text x="7.5" y="3.9">Port Richmond</text></g>
</g>

<!-- Group 16: Rossville -->
<g transform="translate(0,2755.2)">
<g class="k" stroke="#637885">
<path d="M273.3 14.27C367 14.27 367 0 461 0"/>
<path d="M273.3 14.27C367 14.27 367 14.27 461 14.27"/>
<path d="M273.3 14.27C367 14.27 367 28.54 461 28.54"/>
</g>
<circle cx="273.3" cy="14.27" r="4.5" class="ro"/>
<text class="r" x="266" y="18.17">Rossville-Woodrow</text>
<g transform="translate(461,0)"><circle r="4.5" class="ar"/><text x="7.5" y="3.9">Arden Heights</text></g>
<g transform="translate(461,14.27)"><circle r="4.5" class="ns"/><text x="7.5" y="3.9">New Springville-Bloomfield-Travis</text></g>
<g transform="translate(461,28.54)"><circle r="4.5" class="ro"/><text x="7.5" y="3.9">Rossville-Woodrow</text></g>
</g>

<!-- Group 17: Oakwood -->
<g transform="translate(0,2805.1)">
<g class="k" stroke="#bcc8d0">
<path d="M273.3 35.67C367 35.67 367 0 461 0"/>
<path d="M273.3 35.67C367 35.67 367 14.27 461 14.27"/>
<path d="M273.3 35.67C367 35.67 367 28.54 461 28.54"/>
<path d="M273.3 35.67C367 35.67 367 42.8 461 42.8"/>
<path d="M273.3 35.67C367 35.67 367 57.07 461 57.07"/>
<path d="M273.3 35.67C367 35.67 367 71.34 461 71.34"/>
</g>
<circle cx="273.3" cy="35.67" r="4.5" class="oa"/>
<text class="r" x="266" y="39.57">Oakwood-Oakwood Beach</text>
<g transform="translate(461,0)"><circle r="4.5" class="gk"/><text x="7.5" y="3.9">Great Kills</text></g>
<g transform="translate(461,14.27)"><circle r="4.5" class="nd"/><text x="7.5" y="3.9">New Dorp-Midland Beach</text></g>
<g transform="translate(461,28.54)"><circle r="4.5" class="ar"/><text x="7.5" y="3.9">Arden Heights</text></g>
<g transform="translate(461,42.8)"><circle r="4.5" class="oa"/><text x="7.5" y="3.9">Oakwood-Oakwood Beach</text></g>
<g transform="translate(461,57.07)"><circle r="4.5" class="gr"/><text x="7.5" y="3.9">Grasmere-Arrochar-Ft. Wadsworth</text></g>
<g transform="translate(461,71.34)"><circle r="4.5" class="wn"/><text x="7.5" y="3.9">West New Brighton-New Brighton-St. George</text></g>
</g>

<!-- Group 18: Port Richmond -->
<g transform="translate(0,2897.8)">
<g class="k" stroke="#f28c22">
<path d="M273.3 35.67C367 35.67 367 0 461 0"/>
<path d="M273.3 35.67C367 35.67 367 14.27 461 14.27"/>
<path d="M273.3 35.67C367 35.67 367 28.54 461 28.54"/>
<path d="M273.3 35.67C367 35.67 367 42.8 461 42.8"/>
<path d="M273.3 35.67C367 35.67 367 57.07 461 57.07"/>
<path d="M273.3 35.67C367 35.67 367 71.34 461 71.34"/>
</g>
<circle cx="273.3" cy="35.67" r="4.5" class="pr"/>
<text class="r" x="266" y="39.57">Port Richmond</text>
<g transform="translate(461,0)"><circle r="4.5" class="ma"/><text x="7.5" y="3.9">Mariner's Harbor-Arlington-Port Ivory-Graniteville</text></g>
<g transform="translate(461,14.27)"><circle r="4.5" class="td"/><text x="7.5" y="3.9">Todt Hill-Emerson Hill-Heartland Village-Lighthouse Hill</text></g>
<g transform="translate(461,28.54)"><circle r="4.5" class="wn"/><text x="7.5" y="3.9">West New Brighton-New Brighton-St. George</text></g>
<g transform="translate(461,42.8)"><circle r="4.5" class="pr"/><text x="7.5" y="3.9">Port Richmond</text></g>
<g transform="translate(461,57.07)"><circle r="4.5" class="ns"/><text x="7.5" y="3.9">New Springville-Bloomfield-Travis</text></g>
<g transform="translate(461,71.34)"><circle r="4.5" class="ar"/><text x="7.5" y="3.9">Arden Heights</text></g>
</g>

</svg>
</body></html>
